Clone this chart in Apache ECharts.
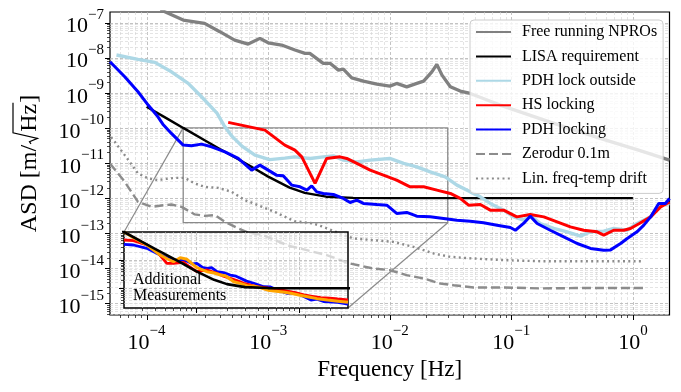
<!DOCTYPE html>
<html>
<head>
<meta charset="utf-8">
<script src="https://cdn.jsdelivr.net/npm/echarts@6.0.0/dist/echarts.min.js"></script>
<style>
  html, body { margin: 0; padding: 0; background: #fff; }
  #chart { width: 681px; height: 392px; }
</style>
</head>
<body>
<div id="chart"></div>
<script>
// log-log ASD plot
const FONT = '"Liberation Serif", "Times New Roman", serif';

const X_RANGE = [5e-5, 2];
const Y_RANGE = [4.7e-16, 2e-7];
// zoomed region shown in the inset
const ZOOM_X = [2e-4, 0.03];
const ZOOM_Y = [2e-13, 1e-10];

const NAMES = ['Free running NPROs', 'LISA requirement', 'PDH lock outside', 'HS locking',
  'PDH locking', 'Zerodur 0.1m', 'Lin. freq-temp drift'];

const freeRunning = [
  [1.3e-4, 2.3e-7], [2.0e-4, 1.18e-7], [3.0e-4, 9.5e-8], [4.0e-4, 5.5e-8], [5.3e-4, 3.17e-8],
  [6.85e-4, 2.44e-8], [8.55e-4, 3.55e-8], [1.0e-3, 2.66e-8], [1.29e-3, 2.29e-8], [1.66e-3, 1.65e-8],
  [2.01e-3, 1.33e-8], [2.2e-3, 1.33e-8], [2.84e-3, 6.9e-9], [3.23e-3, 6.9e-9], [3.78e-3, 4.43e-9],
  [4.15e-3, 4.73e-9], [4.87e-3, 2.67e-9], [6.07e-3, 2.15e-9], [7.83e-3, 1.77e-9], [1.0e-2, 1.55e-9],
  [1.14e-2, 1.85e-9], [1.38e-2, 1.48e-9], [1.67e-2, 1.85e-9], [1.9e-2, 2.15e-9], [2.22e-2, 3.96e-9],
  [2.44e-2, 6.44e-9], [2.69e-2, 3.19e-9], [3.15e-2, 1.48e-9], [3.8e-2, 1.12e-9], [4.59e-2, 9.6e-10],
  [8.1e-2, 4.47e-10], [0.209, 1.46e-10], [0.53, 5.1e-11], [1.13, 2.3e-11], [2.0, 1.21e-11]
];

const lisaReq = [
  [1e-4, 4.0e-10], [1.5e-4, 1.78e-10], [2e-4, 1.0e-10], [3e-4, 4.45e-11], [4e-4, 2.52e-11],
  [5e-4, 1.63e-11], [7e-4, 8.5e-12], [1e-3, 4.1e-12], [1.5e-3, 2.0e-12], [2e-3, 1.41e-12],
  [3e-3, 1.1e-12], [5e-3, 1.02e-12], [1e-2, 1.0e-12], [1, 1.0e-12]
];

const pdhOutside = [
  [5.65e-5, 1.19e-8], [8.5e-5, 8.96e-9], [1.17e-4, 7.35e-9], [1.6e-4, 3.96e-9], [2.2e-4, 1.85e-9],
  [2.83e-4, 7.7e-10], [3.79e-4, 2.64e-10], [4.32e-4, 1.2e-10], [5.03e-4, 5.83e-11], [6.08e-4, 3.03e-11],
  [7.79e-4, 1.68e-11], [1.03e-3, 1.25e-11], [1.37e-3, 1.38e-11], [1.66e-3, 1.5e-11], [2.21e-3, 1.35e-11],
  [2.84e-3, 1.5e-11], [3.44e-3, 1.6e-11], [4.15e-3, 1.21e-11], [5.36e-3, 1.08e-11], [6.9e-3, 1.21e-11],
  [1.0e-2, 1.35e-11], [1.3e-2, 9.75e-12], [1.67e-2, 7.8e-12], [2.15e-2, 5.6e-12], [2.86e-2, 4.04e-12],
  [3.57e-2, 2.35e-12], [4.59e-2, 1.51e-12], [5.56e-2, 1.09e-12], [6.71e-2, 7.06e-13], [8.64e-2, 4.55e-13],
  [0.1045, 2.93e-13], [0.126, 2.36e-13], [0.143, 3.28e-13], [0.173, 1.9e-13], [0.223, 1.37e-13],
  [0.288, 1.1e-13], [0.37, 8.3e-14], [0.448, 1.1e-13], [0.576, 1.15e-13], [0.696, 1.37e-13],
  [0.898, 1.22e-13], [1.08, 1.9e-13], [1.4, 2.93e-13], [1.69, 6.3e-13], [2.0, 7.0e-13]
];

const hsLocking = [
  [4.69e-4, 1.44e-10], [9.4e-4, 8.65e-11], [1.37e-3, 3.24e-11], [1.66e-3, 2.33e-11], [1.89e-3, 1.5e-11],
  [2.43e-3, 2.62e-12], [3.03e-3, 1.35e-11], [3.9e-3, 1.5e-11], [4.43e-3, 1.35e-11], [5.36e-3, 9.75e-12],
  [6.9e-3, 6.28e-12], [8.87e-3, 4.52e-12], [1.14e-2, 3.26e-12], [1.47e-2, 2.1e-12], [1.9e-2, 2.1e-12],
  [2.44e-2, 1.69e-12], [3.15e-2, 1.36e-12], [3.8e-2, 9.8e-13], [4.45e-2, 6.3e-13], [5.56e-2, 6.6e-13],
  [6.71e-2, 4.55e-13], [8.64e-2, 4.55e-13], [0.111, 2.93e-13], [0.143, 3.44e-13], [0.185, 2.93e-13],
  [0.238, 2.11e-13], [0.306, 1.52e-13], [0.394, 1.22e-13], [0.508, 1.1e-13], [0.576, 8.8e-14],
  [0.696, 1.22e-13], [0.841, 1.22e-13], [0.955, 1.37e-13], [1.13, 1.9e-13], [1.4, 2.93e-13],
  [1.69, 5.65e-13], [2.0, 7.85e-13]
];

const pdhLocking = [
  [5e-5, 7.64e-9], [6.61e-5, 2.86e-9], [8.5e-5, 1.07e-9], [1.03e-4, 4.47e-10], [1.24e-4, 2.07e-10],
  [1.36e-4, 1.28e-10], [1.6e-4, 6.97e-11], [2.0e-4, 3.24e-11], [2.34e-4, 3.1e-11], [2.83e-4, 3.45e-11],
  [3.42e-4, 2.9e-11], [4.41e-4, 2.09e-11], [5.67e-4, 1.35e-11], [7.31e-4, 6.28e-12], [8.55e-4, 8.7e-12],
  [1.0e-3, 6.28e-12], [1.17e-3, 4.52e-12], [1.33e-3, 4.31e-12], [1.56e-3, 2.35e-12], [1.83e-3, 2.1e-12],
  [2.08e-3, 1.69e-12], [2.28e-3, 2.24e-12], [2.51e-3, 1.51e-12], [2.84e-3, 1.36e-12], [3.44e-3, 1.27e-12],
  [4.15e-3, 9.8e-13], [4.72e-3, 7.5e-13], [5.36e-3, 8.8e-13], [6.07e-3, 7.06e-13], [7.83e-3, 6.6e-13],
  [9.46e-3, 6.3e-13], [1.14e-2, 3.66e-13], [1.38e-2, 3.92e-13], [1.67e-2, 3.07e-13], [2.15e-2, 2.93e-13],
  [2.77e-2, 2.64e-13], [3.57e-2, 2.36e-13], [4.59e-2, 2.21e-13], [5.91e-2, 1.98e-13], [7.62e-2, 1.7e-13],
  [9.82e-2, 1.46e-13], [0.108, 1.22e-13], [0.126, 1.9e-13], [0.143, 3.07e-13], [0.163, 1.9e-13],
  [0.209, 1.22e-13], [0.27, 7.9e-14], [0.348, 5.1e-14], [0.448, 3.69e-14], [0.576, 3.3e-14],
  [0.655, 3.36e-14], [0.792, 5.1e-14], [0.898, 7.1e-14], [1.08, 1.1e-13], [1.23, 1.7e-13],
  [1.4, 2.93e-13], [1.63, 7.06e-13], [1.85, 7.06e-13], [2.0, 9.8e-13]
];

const zerodur = [
  [5e-5, 9.75e-12], [6.61e-5, 2.91e-12], [8.5e-5, 7.85e-13], [1.1e-4, 5.65e-13], [1.37e-4, 6.3e-13],
  [1.6e-4, 6.6e-13], [1.94e-4, 5.65e-13], [2.49e-4, 3.44e-13], [3.0e-4, 3.13e-13], [3.65e-4, 3.28e-13],
  [4.41e-4, 2.11e-13], [5.67e-4, 1.37e-13], [6.85e-4, 1.05e-13], [9.12e-4, 8.83e-14], [1.42e-3, 4.58e-14],
  [2.08e-3, 3.3e-14], [3.03e-3, 2.38e-14], [4.72e-3, 1.38e-14], [7.34e-3, 9.9e-15], [1.0e-2, 8.9e-15],
  [1.38e-2, 6.4e-15], [1.9e-2, 5.15e-15], [2.6e-2, 3.71e-15], [3.35e-2, 3.32e-15], [4.89e-2, 2.86e-15],
  [8.8e-2, 2.86e-15], [0.173, 2.68e-15], [0.34, 2.75e-15], [0.61, 2.75e-15], [1.23, 2.75e-15]
];

const linDrift = [
  [5.1e-5, 5.4e-11], [5.47e-5, 4.02e-11], [6.61e-5, 1.68e-11], [8.5e-5, 5.06e-12], [1.03e-4, 3.64e-12],
  [1.24e-4, 3.26e-12], [1.41e-4, 3.5e-12], [1.71e-4, 3.78e-12], [2.06e-4, 3.78e-12], [2.49e-4, 2.62e-12],
  [3.0e-4, 2.1e-12], [3.88e-4, 1.96e-12], [5.0e-4, 1.51e-12], [6.44e-4, 8.8e-13], [8.28e-4, 6.3e-13],
  [1.13e-3, 4.07e-13], [1.47e-3, 2.64e-13], [1.66e-3, 2.21e-13], [2.35e-3, 1.9e-13], [2.84e-3, 1.52e-13],
  [3.9e-3, 9.86e-14], [5.02e-3, 7.1e-14], [7.34e-3, 6.36e-14], [1.07e-2, 5.69e-14], [1.57e-2, 4.1e-14],
  [2.29e-2, 2.66e-14], [3.15e-2, 2.13e-14], [4.89e-2, 1.91e-14], [8.8e-2, 1.71e-14], [0.173, 1.6e-14],
  [0.34, 1.6e-14], [0.61, 1.6e-14], [1.19, 1.6e-14]
];

// inset: additional measurements
const addPdh = [
  [2.0e-4, 3.66e-11], [2.47e-4, 3.45e-11], [3.33e-4, 2.64e-11], [4.49e-4, 1.53e-11], [5.3e-4, 1.2e-11],
  [6.05e-4, 1.01e-11], [7.0e-4, 1.05e-11], [8.18e-4, 9.3e-12], [9.2e-4, 7.4e-12], [1.02e-3, 7.7e-12],
  [1.15e-3, 5.6e-12], [1.28e-3, 5.14e-12], [1.42e-3, 5.4e-12], [1.6e-3, 3.9e-12], [1.85e-3, 3.6e-12],
  [2.16e-3, 2.97e-12], [2.45e-3, 2.7e-12], [2.71e-3, 2.27e-12], [3.1e-3, 1.8e-12], [3.65e-3, 1.51e-12],
  [4.57e-3, 1.14e-12], [5.3e-3, 1.12e-12], [6.18e-3, 8.7e-13], [7.73e-3, 6.65e-13], [9.0e-3, 6.9e-13],
  [1.04e-2, 5.8e-13], [1.31e-2, 3.85e-13], [1.5e-2, 4.1e-13], [1.76e-2, 3.35e-13], [2.38e-2, 3.19e-13],
  [3.0e-2, 2.77e-13]
];

const addHs = [
  [2.0e-4, 5.2e-11], [2.47e-4, 4.91e-11], [3.33e-4, 3.45e-11], [4.17e-4, 2.0e-11], [5.22e-4, 7.7e-12],
  [6.05e-4, 7.7e-12], [7.58e-4, 8.4e-12], [8.8e-4, 5.6e-12], [1.02e-3, 3.9e-12], [1.28e-3, 4.48e-12],
  [1.6e-3, 3.41e-12], [1.85e-3, 2.7e-12], [2.16e-3, 2.27e-12], [2.5e-3, 1.9e-12], [2.92e-3, 1.51e-12],
  [3.4e-3, 1.3e-12], [3.94e-3, 1.14e-12], [5.31e-3, 1.0e-12], [6.5e-3, 9.0e-13], [7.73e-3, 8.0e-13],
  [9.2e-3, 7.0e-13], [1.12e-2, 5.8e-13], [1.35e-2, 5.2e-13], [1.63e-2, 4.64e-13], [2.0e-2, 4.5e-13],
  [2.38e-2, 4.18e-13], [3.0e-2, 3.85e-13]
];

const addOrange = [
  [2.0e-4, 1.0e-10], [2.47e-4, 6.28e-11], [3.33e-4, 3.45e-11], [4.49e-4, 1.53e-11], [5.3e-4, 1.1e-11],
  [6.05e-4, 8.8e-12], [7.03e-4, 1.22e-11], [8.18e-4, 1.07e-11], [1.02e-3, 5.4e-12], [1.28e-3, 3.9e-12],
  [1.5e-3, 3.5e-12], [1.73e-3, 2.97e-12], [1.93e-3, 2.81e-12], [2.33e-3, 1.72e-12], [2.7e-3, 1.5e-12],
  [3.15e-3, 1.24e-12], [3.6e-3, 1.2e-12], [4.25e-3, 1.05e-12], [5.0e-3, 8.6e-13], [5.73e-3, 8.0e-13],
  [7.0e-3, 7.4e-13], [8.34e-3, 6.65e-13], [1.0e-2, 5.8e-13], [1.21e-2, 5.04e-13], [1.5e-2, 4.3e-13],
  [1.9e-2, 3.85e-13], [2.4e-2, 3.5e-13], [3.0e-2, 3.19e-13]
];

// log grid values (decades + 2..9 multiples) inside a range
function logGridValues(range) {
  const out = [];
  const d0 = Math.floor(Math.log10(range[0]));
  const d1 = Math.ceil(Math.log10(range[1]));
  for (let d = d0; d <= d1; d++) {
    for (let m = 1; m <= 9; m++) {
      const v = Number((m * Math.pow(10, d)).toPrecision(6));
      if (v > range[0] * 1.001 && v < range[1] * 0.999) out.push([v, m === 1 ? 1 : 0]);
    }
  }
  return out;
}

function gridSeries(idx, dim, xr, yr, z) {
  const vals = logGridValues(dim === 'x' ? xr : yr);
  const other = dim === 'x' ? Math.sqrt(yr[0] * yr[1]) : Math.sqrt(xr[0] * xr[1]);
  return {
    type: 'custom',
    xAxisIndex: idx,
    yAxisIndex: idx,
    silent: true,
    z: z,
    data: vals.map(v => dim === 'x' ? [v[0], other, v[1]] : [other, v[0], v[1]]),
    renderItem: function (params, api) {
      const cs = params.coordSys;
      const major = api.value(2) === 1;
      const p = api.coord([api.value(0), api.value(1)]);
      const gridStyle = {
        stroke: major ? '#b4b4b4' : '#d2d2d2',
        lineWidth: major ? 0.8 : 0.6,
        lineDash: [3, 2]
      };
      const tickLen = major ? 5 : 3;
      const tickStyle = { stroke: '#000', lineWidth: major ? 1 : 0.7 };
      if (dim === 'x') {
        const x = Math.round(p[0]) + 0.5;
        const yb = cs.y + cs.height;
        return { type: 'group', children: [
          { type: 'line', shape: { x1: x, y1: cs.y, x2: x, y2: yb }, style: gridStyle },
          { type: 'line', shape: { x1: x, y1: yb, x2: x, y2: yb + tickLen }, style: tickStyle }
        ] };
      }
      const y = Math.round(p[1]) + 0.5;
      return { type: 'group', children: [
        { type: 'line', shape: { x1: cs.x, y1: y, x2: cs.x + cs.width, y2: y }, style: gridStyle },
        { type: 'line', shape: { x1: cs.x, y1: y, x2: cs.x - tickLen, y2: y }, style: tickStyle }
      ] };
    }
  };
}

function powLabel(v) {
  const l = Math.log10(v);
  const e = Math.round(l);
  if (Math.abs(l - e) > 1e-6) return '';
  return '{b|10}{s|' + (e < 0 ? '\u2212' : '') + Math.abs(e) + '}';
}

const richPow = {
  b: { fontSize: 22, fontFamily: FONT, color: '#000', lineHeight: 30, verticalAlign: 'bottom' },
  s: { fontSize: 15, fontFamily: FONT, color: '#000', lineHeight: 12, verticalAlign: 'top' }
};

function line(name, data, color, width, type, idx, z) {
  return {
    name: name, type: 'line', data: data, xAxisIndex: idx || 0, yAxisIndex: idx || 0,
    symbol: 'none', showSymbol: false, silent: true, z: z || 2,
    lineStyle: { color: color, width: width, type: type || 'solid' },
    itemStyle: { color: color }
  };
}

const rectData = [
  [ZOOM_X[0], ZOOM_Y[1]], [ZOOM_X[1], ZOOM_Y[1]], [ZOOM_X[1], ZOOM_Y[0]],
  [ZOOM_X[0], ZOOM_Y[0]], [ZOOM_X[0], ZOOM_Y[1]]
];

const chart = echarts.init(document.getElementById('chart'));

const option = {
  animation: false,
  backgroundColor: '#fff',
  grid: [
    { left: 110, top: 12, right: 11.5, bottom: 77, show: true, borderColor: '#000', borderWidth: 1.2,
      backgroundColor: 'transparent' },
    { left: 124, top: 232, width: 224, height: 76, show: true, borderColor: '#000', borderWidth: 1.5,
      backgroundColor: 'rgba(255,255,255,0.65)', z: 10 }
  ],
  xAxis: [
    { type: 'log', gridIndex: 0, min: X_RANGE[0], max: X_RANGE[1], splitNumber: 10,
      name: 'Frequency [Hz]', nameLocation: 'middle', nameGap: 41,
      nameTextStyle: { fontFamily: FONT, fontSize: 23, color: '#000' },
      axisLine: { show: false }, axisTick: { show: false }, splitLine: { show: false },
      axisLabel: { formatter: powLabel, rich: richPow, margin: 9, hideOverlap: false } },
    { type: 'log', gridIndex: 1, min: ZOOM_X[0], max: ZOOM_X[1], z: 11,
      axisLine: { show: false }, axisTick: { show: false }, splitLine: { show: false },
      axisLabel: { show: false } }
  ],
  yAxis: [
    { type: 'log', gridIndex: 0, min: Y_RANGE[0], max: Y_RANGE[1], splitNumber: 10,
      axisLine: { show: false }, axisTick: { show: false }, splitLine: { show: false },
      axisLabel: { formatter: powLabel, rich: richPow, margin: 6, hideOverlap: false } },
    { type: 'log', gridIndex: 1, min: ZOOM_Y[0], max: ZOOM_Y[1], z: 11,
      axisLine: { show: false }, axisTick: { show: false }, splitLine: { show: false },
      axisLabel: { show: false } }
  ],
  legend: {
    data: NAMES,
    orient: 'vertical',
    left: 470, top: 20,
    padding: [4, 6, 7, 5],
    itemWidth: 35, itemHeight: 14, itemGap: 8.4,
    backgroundColor: 'rgba(255,255,255,0.8)',
    borderColor: '#cccccc', borderWidth: 1, borderRadius: 4,
    itemStyle: { opacity: 0 },
    textStyle: { fontFamily: FONT, fontSize: 16, color: '#000', lineHeight: 14, padding: [0, 0, 0, 6] },
    z: 20
  },
  series: [
    gridSeries(0, 'x', X_RANGE, Y_RANGE, 1),
    gridSeries(0, 'y', X_RANGE, Y_RANGE, 1),
    Object.assign(line('zoom box', rectData, '#8a8a8a', 1.3), { z: 1 }),
    line(NAMES[0], freeRunning, '#808080', 3.3),
    line(NAMES[1], lisaReq, '#000000', 2.4),
    line(NAMES[2], pdhOutside, '#add8e6', 3.4),
    line(NAMES[3], hsLocking, '#ff0000', 3),
    line(NAMES[4], pdhLocking, '#0000ff', 3),
    line(NAMES[5], zerodur, '#8c8c8c', 2.4, [9, 4]),
    line(NAMES[6], linDrift, '#8c8c8c', 2.4, [2, 3.3]),
    gridSeries(1, 'x', ZOOM_X, ZOOM_Y, 11),
    gridSeries(1, 'y', ZOOM_X, ZOOM_Y, 11),
    line('add PDH', addPdh, '#0000ff', 2.8, 'solid', 1, 12),
    line('add HS', addHs, '#ff0000', 2.8, 'solid', 1, 12),
    line('add other', addOrange, '#ffa500', 3, 'solid', 1, 12),
    line('inset LISA', lisaReq, '#000000', 2.6, 'solid', 1, 13)
  ]
};

chart.setOption(option);

// connector lines from the zoom box to the inset corners
const tl0 = chart.convertToPixel({ xAxisIndex: 0, yAxisIndex: 0 }, [ZOOM_X[0], ZOOM_Y[1]]);
const tl1 = chart.convertToPixel({ xAxisIndex: 1, yAxisIndex: 1 }, [ZOOM_X[0], ZOOM_Y[1]]);
const br0 = chart.convertToPixel({ xAxisIndex: 0, yAxisIndex: 0 }, [ZOOM_X[1], ZOOM_Y[0]]);
const br1 = chart.convertToPixel({ xAxisIndex: 1, yAxisIndex: 1 }, [ZOOM_X[1], ZOOM_Y[0]]);

// y-axis title with a drawn square-root sign: ASD [m/sqrt(Hz)]
const NAME_FS = 24;
const mctx = document.createElement('canvas').getContext('2d');
mctx.font = NAME_FS + 'px ' + FONT;
const wA = mctx.measureText('ASD [m/').width;
const wH = mctx.measureText('Hz').width;
const wB = mctx.measureText(']').width;
const RAD = 13;
const W = wA + RAD + wH + 1 + wB;
const x0 = -W / 2;
const nameStyle = t => ({ text: t, font: NAME_FS + 'px ' + FONT, fill: '#000', align: 'left', verticalAlign: 'middle' });
const rx = x0 + wA;

chart.setOption({
  graphic: [
    { type: 'line', z: 1, silent: true, shape: { x1: tl0[0], y1: tl0[1], x2: tl1[0], y2: tl1[1] },
      style: { stroke: '#8a8a8a', lineWidth: 1.2 } },
    { type: 'line', z: 1, silent: true, shape: { x1: br0[0], y1: br0[1], x2: br1[0], y2: br1[1] },
      style: { stroke: '#8a8a8a', lineWidth: 1.2 } },
    { type: 'text', z: 30, silent: true, left: 133, top: 272,
      style: { text: 'Additional\nMeasurements', font: '16px ' + FONT, fill: '#000', lineHeight: 16 } },
    { type: 'group', x: 30, y: 163.5, rotation: Math.PI / 2, silent: true, children: [
      { type: 'text', x: x0, y: 0, style: nameStyle('ASD [m/') },
      { type: 'polyline', shape: { points: [[rx + 1, 1], [rx + 3, -0.5], [rx + 6.5, 7.5], [rx + RAD - 1, -17],
          [rx + RAD + wH + 1, -17]] }, style: { stroke: '#000', lineWidth: 1.2, fill: null } },
      { type: 'text', x: rx + RAD, y: 0, style: nameStyle('Hz') },
      { type: 'text', x: rx + RAD + wH + 1, y: 0, style: nameStyle(']') }
    ] }
  ]
});
</script>
</body>
</html>
